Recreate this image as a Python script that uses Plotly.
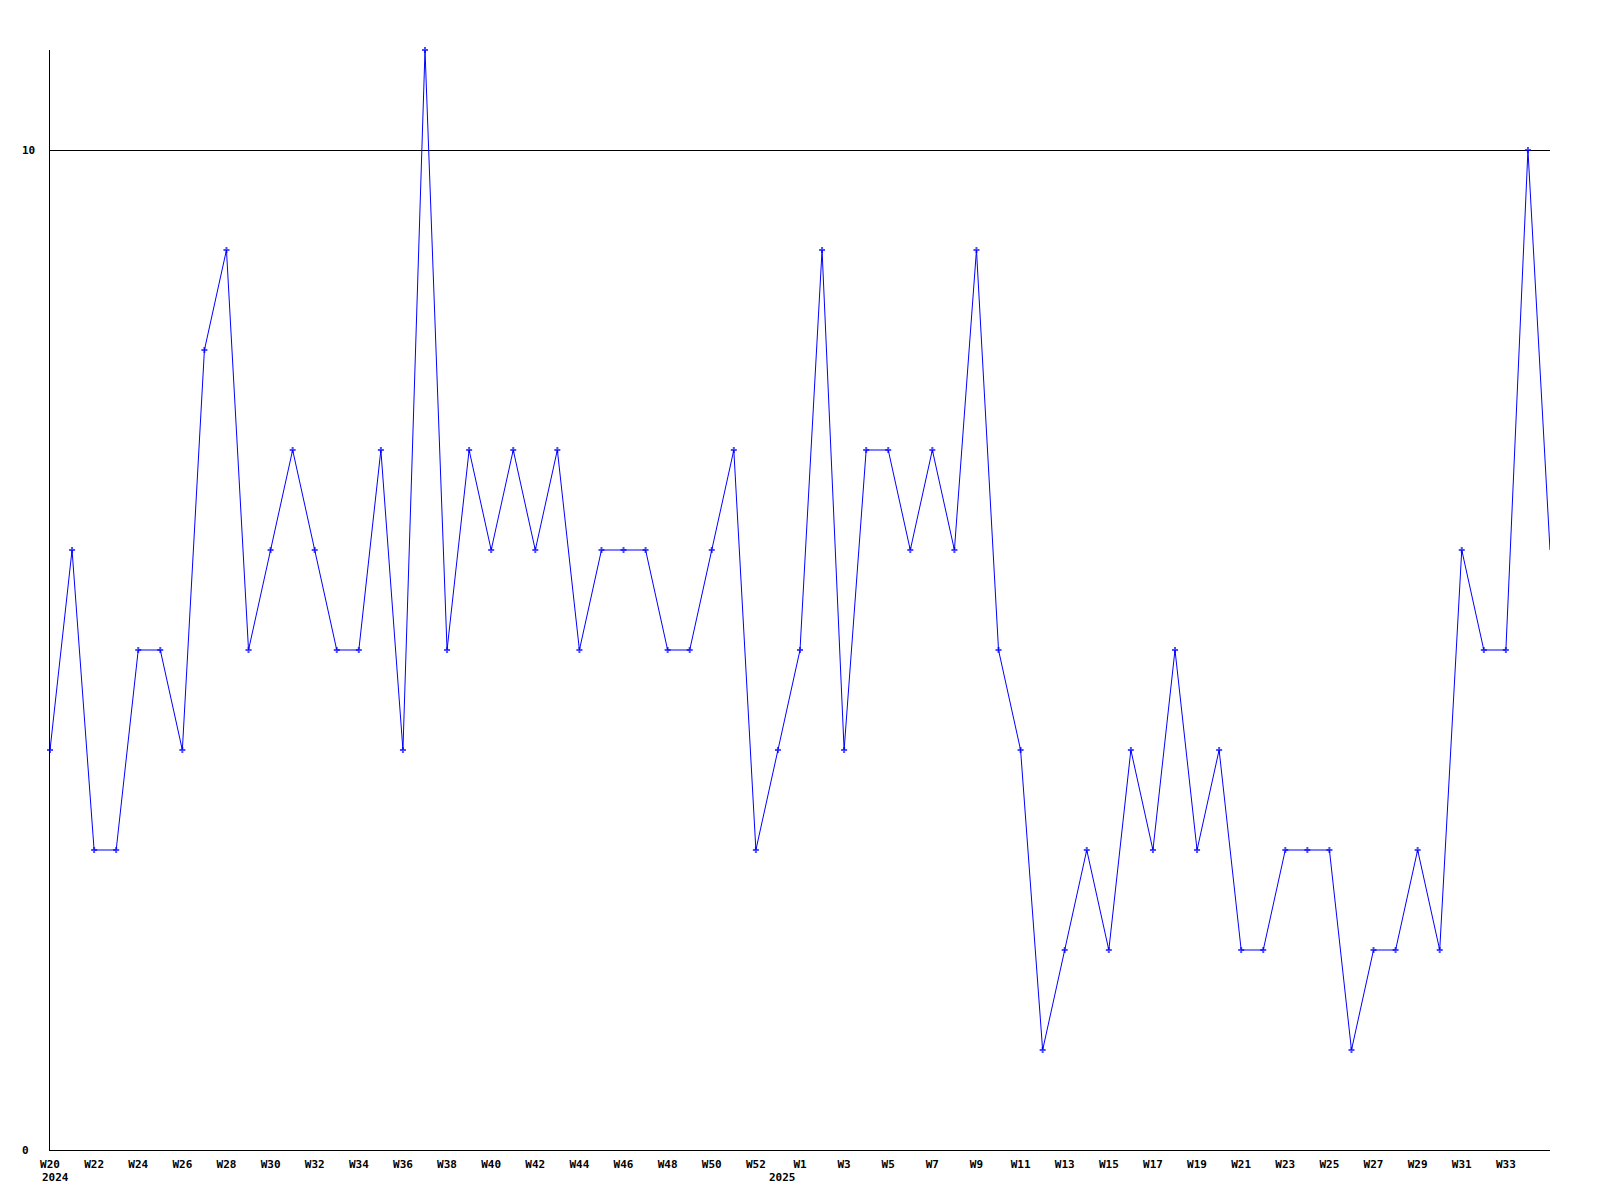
import plotly.graph_objects as go

weeks = [f"W{w}" for w in range(20, 54)] + [f"W{w}" for w in range(1, 36)]
values = [4, 6, 3, 3, 5, 5, 4, 8, 9, 5, 6, 7, 6, 5, 5, 7, 4, 11, 5, 7,
          6, 7, 6, 7, 5, 6, 6, 6, 5, 5, 6, 7, 3, 4, 5, 9, 4, 7, 7, 6,
          7, 6, 9, 5, 4, 1, 2, 3, 2, 4, 3, 5, 3, 4, 2, 2, 3, 3, 3, 1,
          2, 2, 3, 2, 6, 5, 5, 10, 6]
year_labels = [("2024", "W20"), ("2025", "W1")]
y_labels = [10, 0]

idx = list(range(len(weeks)))
FONT = dict(family="DejaVu Sans Mono", size=11, color="black")

marker_sizes = [5] * (len(idx) - 1) + [0]

fig = go.Figure()
fig.add_trace(go.Scatter(
    x=idx, y=values, mode="lines+markers",
    line=dict(color="#0000FF", width=1),
    marker=dict(color="#0000FF", size=marker_sizes, symbol="cross",
                line=dict(width=0)),
    cliponaxis=False, hoverinfo="skip",
))

tickvals = [i for i in idx if i % 2 == 0 and i < len(idx) - 1]
ticktext = [f"<b>{weeks[i]}</b>" for i in tickvals]

annotations = []
for yr, wk in year_labels:
    i = weeks.index(wk)
    annotations.append(dict(x=i, y=0, xref="x", yref="paper", text=f"<b>{yr}</b>",
                            showarrow=False, xanchor="left", yanchor="middle",
                            xshift=-10 if i == 0 else -33, yshift=-27, font=FONT))
for v in y_labels:
    annotations.append(dict(x=0, y=v, xref="paper", yref="y", text=f"<b>{v}</b>",
                            showarrow=False, xanchor="left", yanchor="middle",
                            xshift=-30, font=FONT))

fig.update_layout(
    width=1584, height=1184,
    margin=dict(l=42, r=42, t=42, b=42),
    paper_bgcolor="white", plot_bgcolor="white",
    showlegend=False,
    font=FONT,
    annotations=annotations,
    xaxis=dict(range=[0, len(idx) - 1], tickvals=tickvals, ticktext=ticktext,
               showgrid=False, zeroline=False, showline=True, linecolor="black",
               linewidth=1, ticks="", tickfont=FONT, ticklabelstandoff=4),
    yaxis=dict(range=[0, 11], tickvals=[10], showticklabels=False,
               showgrid=True, gridcolor="black", gridwidth=1,
               zeroline=False, showline=True, linecolor="black", linewidth=1,
               ticks=""),
)

fig.write_html("out.html")
